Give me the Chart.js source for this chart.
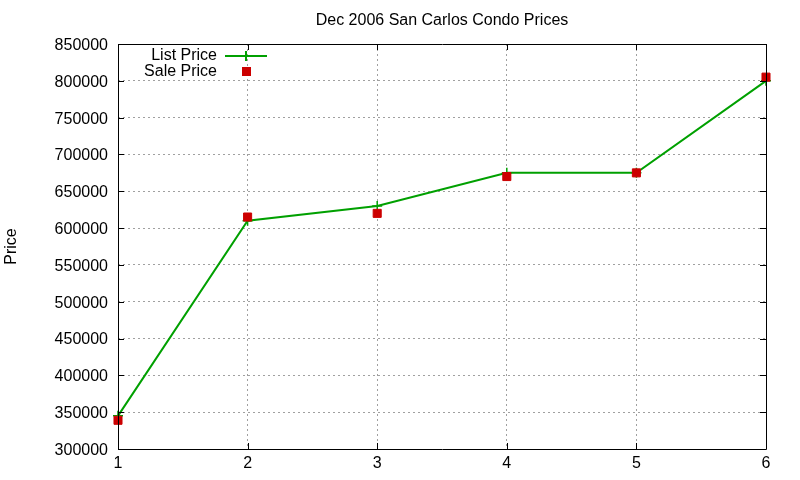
<!DOCTYPE html>
<html>
<head>
<meta charset="utf-8">
<script src="https://cdn.jsdelivr.net/npm/chart.js@4"></script>
<style>
html,body{margin:0;padding:0;background:#fff;}
#wrap{width:800px;height:480px;}
</style>
</head>
<body>
<div id="wrap"><canvas id="c" width="800" height="480"></canvas></div>
<script>
const categories = [1, 2, 3, 4, 5, 6];
const listPrice = [345000, 610000, 630000, 675000, 675000, 800000];
const salePrice = [339000, 615000, 620000, 670000, 675000, 805000];
const titleText = "Dec 2006 San Carlos Condo Prices";
const yTitle = "Price";
const seriesNames = ["List Price", "Sale Price"];

const GREEN = "#00a000";
const RED = "#cc0000";
const FONT = "Liberation Sans, Arial, sans-serif";

const decor = {
  id: 'decor',
  afterDraw(chart) {
    const ctx = chart.ctx;
    const a = chart.chartArea;
    const xs = chart.scales.x, ys = chart.scales.y;
    ctx.save();
    ctx.strokeStyle = "#000";
    ctx.lineWidth = 1;
    ctx.setLineDash([]);
    ctx.beginPath();
    ctx.rect(Math.round(a.left) + 0.5, Math.round(a.top) + 0.5, Math.round(a.right - a.left), Math.round(a.bottom - a.top));
    ctx.stroke();
    ctx.beginPath();
    ys.ticks.forEach(t => {
      const y = Math.round(ys.getPixelForValue(t.value)) + 0.5;
      ctx.moveTo(a.left, y); ctx.lineTo(a.left + 6, y);
      ctx.moveTo(a.right, y); ctx.lineTo(a.right - 6, y);
    });
    xs.ticks.forEach(t => {
      const x = Math.round(xs.getPixelForValue(t.value)) + 0.5;
      ctx.moveTo(x, a.bottom); ctx.lineTo(x, a.bottom - 6);
      ctx.moveTo(x, a.top); ctx.lineTo(x, a.top + 6);
    });
    ctx.stroke();
    ctx.fillStyle = "#000";
    ctx.font = "16px " + FONT;
    ctx.textAlign = "center";
    ctx.textBaseline = "middle";
    ctx.fillText(titleText, (a.left + a.right) / 2, 21);
    ctx.save();
    ctx.translate(12, (a.top + a.bottom) / 2);
    ctx.rotate(-Math.PI / 2);
    ctx.font = "16px " + FONT;
    ctx.fillText(yTitle, 0, 0);
    ctx.restore();
    ctx.font = "16px " + FONT;
    ctx.textAlign = "right";
    ctx.fillText(seriesNames[0], 217, 56);
    ctx.fillText(seriesNames[1], 217, 72);
    ctx.strokeStyle = GREEN;
    ctx.lineWidth = 2;
    ctx.beginPath();
    ctx.moveTo(225, 56); ctx.lineTo(267, 56);
    ctx.moveTo(246, 51); ctx.lineTo(246, 61);
    ctx.stroke();
    ctx.fillStyle = RED;
    ctx.fillRect(242, 67, 9, 9);
    ctx.restore();
  }
};

new Chart(document.getElementById('c'), {
  type: 'line',
  data: {
    datasets: [
      {
        label: seriesNames[0],
        data: categories.map((c, i) => ({x: c, y: listPrice[i]})),
        borderColor: GREEN,
        backgroundColor: GREEN,
        borderWidth: 2,
        pointStyle: 'cross',
        pointRadius: 5,
        pointBorderWidth: 1.5,
        tension: 0,
        clip: false,
        order: 2
      },
      {
        label: seriesNames[1],
        data: categories.map((c, i) => ({x: c, y: salePrice[i]})),
        borderColor: RED,
        backgroundColor: RED,
        showLine: false,
        pointStyle: 'rect',
        pointRadius: 5.7,
        pointBorderWidth: 1,
        clip: false,
        order: 1
      }
    ]
  },
  options: {
    responsive: false,
    animation: false,
    layout: {padding: {left: 0, right: 34, top: 44, bottom: 0}},
    plugins: {legend: {display: false}, title: {display: false}, tooltip: {enabled: false}},
    scales: {
      x: {
        type: 'linear', min: 1, max: 6,
        afterFit(s) { s.height = 31; },
        ticks: {stepSize: 1, color: "#000", font: {family: FONT, size: 16}, padding: 5},
        grid: {color: "#a0a0a0", lineWidth: 1, drawTicks: false},
        border: {display: false, dash: [2, 3]}
      },
      y: {
        min: 300000, max: 850000,
        afterFit(s) { s.width = 118; },
        ticks: {stepSize: 50000, color: "#000", font: {family: FONT, size: 16}, padding: 10,
          labelOffset: 1.5, callback: v => String(v)},
        grid: {color: "#a0a0a0", lineWidth: 1, drawTicks: false},
        border: {display: false, dash: [2, 3]}
      }
    }
  },
  plugins: [decor]
});
</script>
</body>
</html>
